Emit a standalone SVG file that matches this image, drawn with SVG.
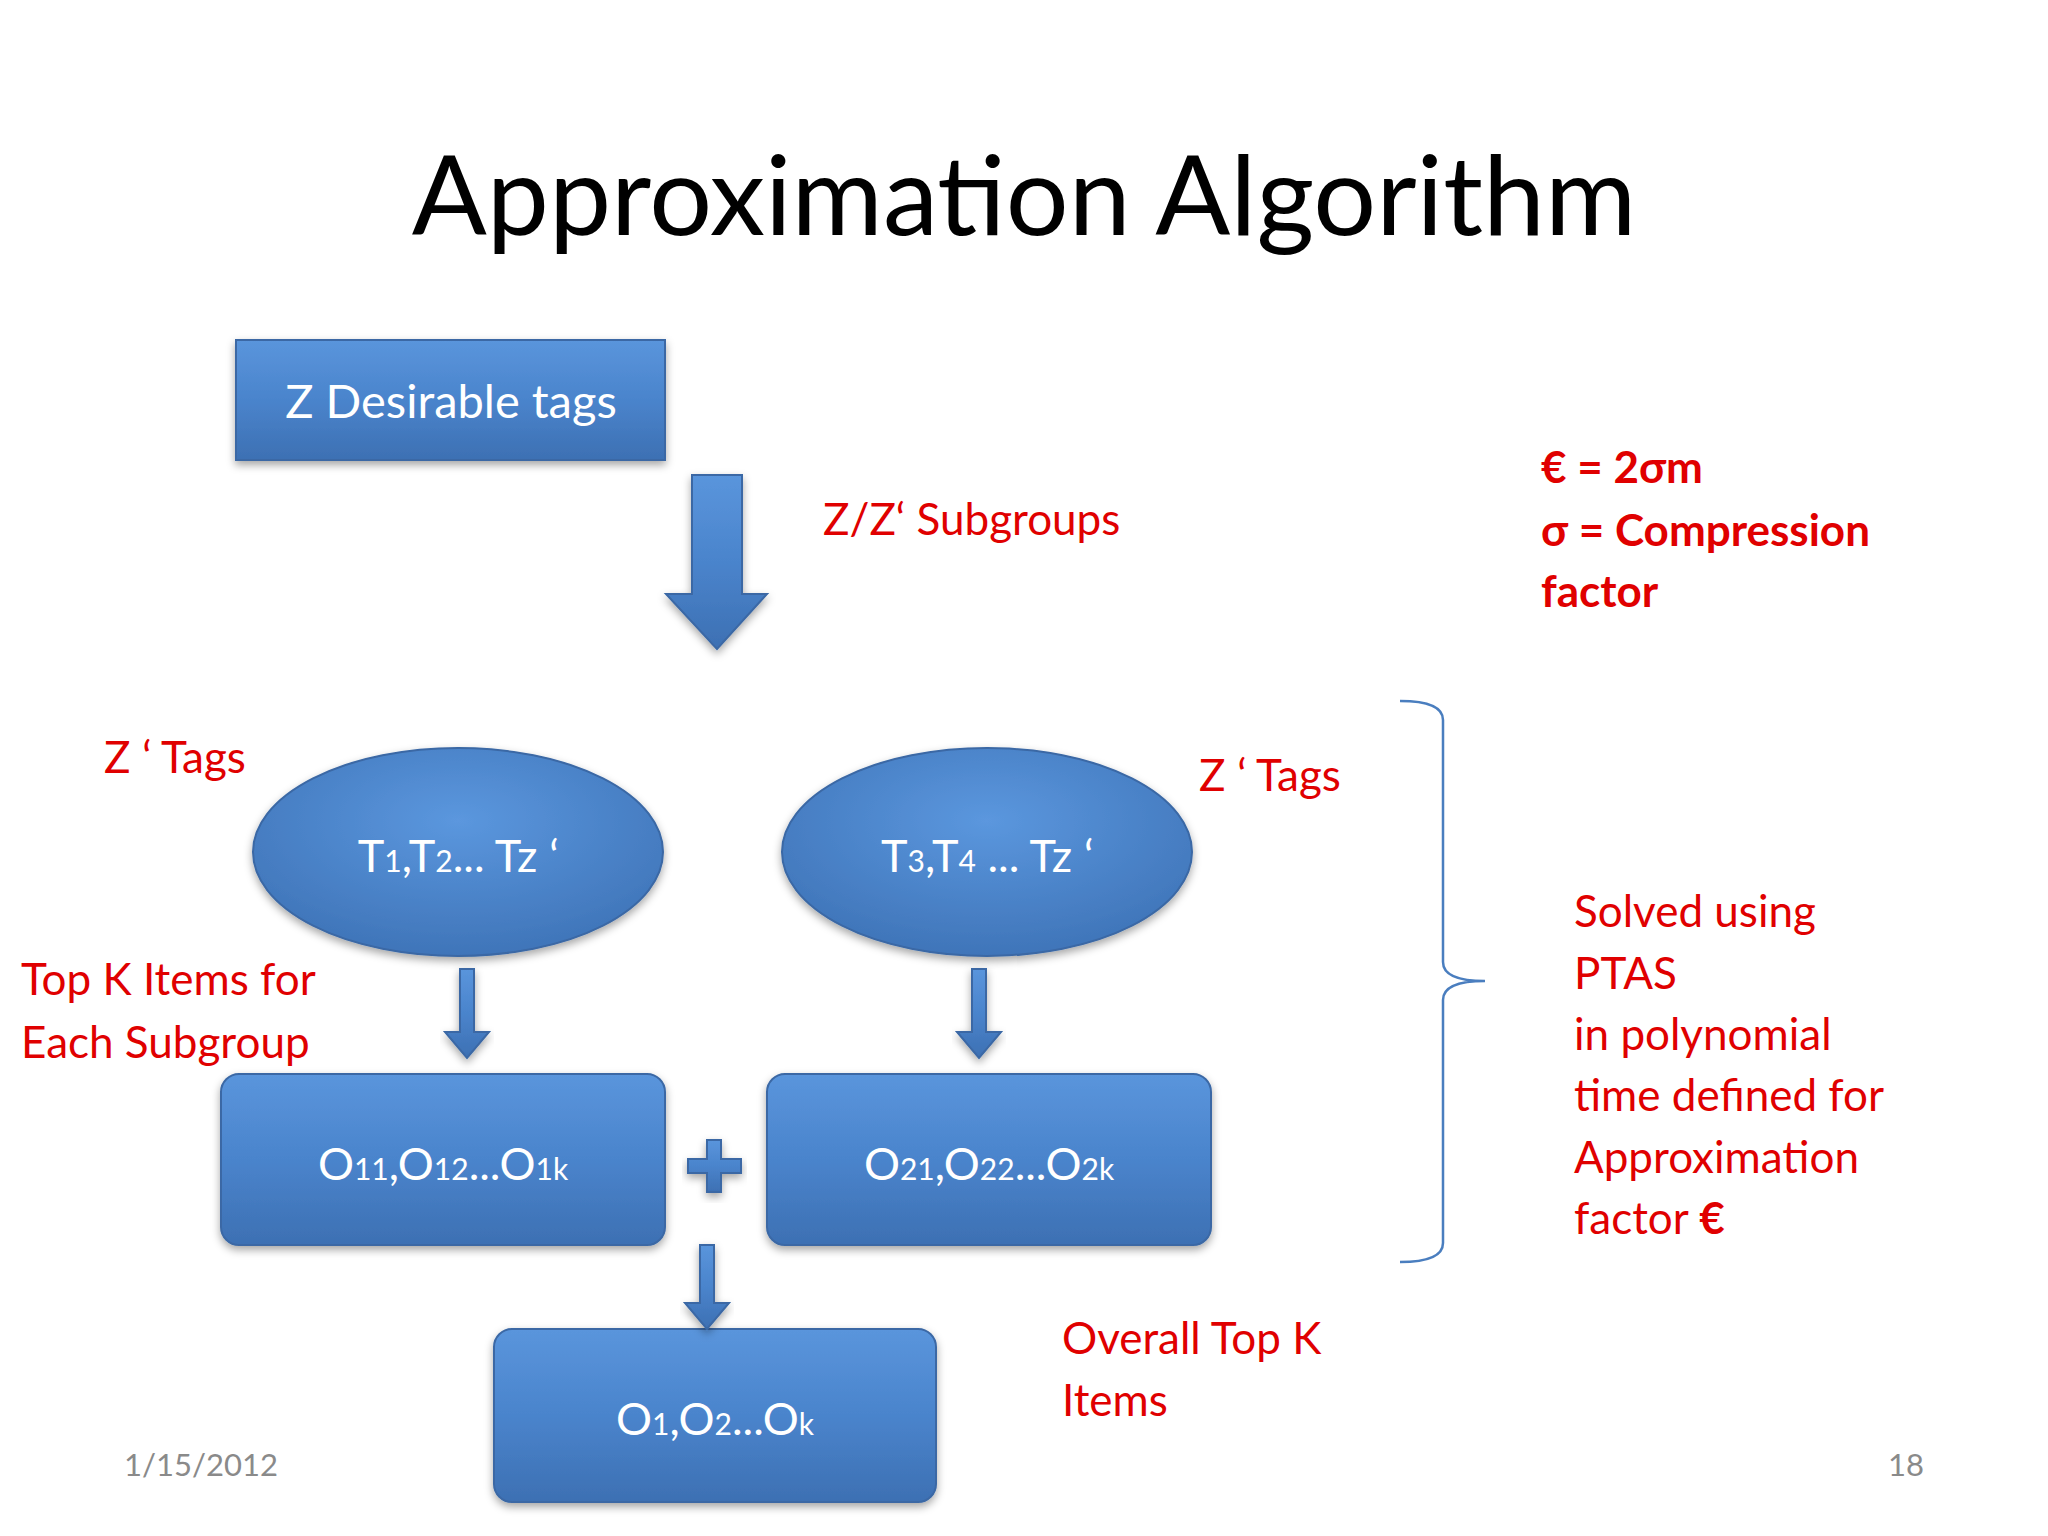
<svg xmlns="http://www.w3.org/2000/svg" width="2048" height="1536" viewBox="0 0 2048 1536">
<defs>
<linearGradient id="g" x1="0" y1="0" x2="0" y2="1"><stop offset="0" stop-color="#5a95dc"/><stop offset="0.5" stop-color="#4a84cc"/><stop offset="1" stop-color="#3d70b3"/></linearGradient>
<radialGradient id="eg" cx="0.5" cy="0.35" r="0.7"><stop offset="0" stop-color="#5b97de"/><stop offset="1" stop-color="#3d72b6"/></radialGradient>
<filter id="sh" x="-10%" y="-10%" width="120%" height="130%"><feDropShadow dx="0" dy="4" stdDeviation="4" flood-color="#000" flood-opacity="0.35"/></filter>
</defs>
<style>
.n{fill:url(#g);stroke:#3a68a5;stroke-width:2;filter:url(#sh)}
.e{fill:url(#eg);stroke:#3a68a5;stroke-width:2;filter:url(#sh)}
.w{font-family:Lato,"Open Sans",sans-serif;fill:#fff;text-anchor:middle}
.r{font-family:Lato,"Open Sans",sans-serif;fill:#e00000;font-size:44px}
.a{fill:url(#g);stroke:#3a68a5;stroke-width:2;filter:url(#sh)}
</style>
<rect width="2048" height="1536" fill="#fff"/>
<text x="1024" y="235" font-family="Lato,'Open Sans',sans-serif" font-size="111" text-anchor="middle" fill="#000">Approximation Algorithm</text>
<g id="n1"><rect class="n" x="236" y="340" width="429" height="120"/><text class="w" x="451" y="418" font-size="47">Z Desirable tags</text></g>
<g id="e1"><ellipse class="e" cx="458" cy="852" rx="205" ry="104"/><text class="w" x="458" y="872" font-size="45">T<tspan font-size="30">1</tspan>,T<tspan font-size="30">2</tspan>... Tz ʻ</text></g>
<g id="e2"><ellipse class="e" cx="987" cy="852" rx="205" ry="104"/><text class="w" x="987" y="872" font-size="45">T<tspan font-size="30">3</tspan>,T<tspan font-size="30">4</tspan> ... Tz ʻ</text></g>
<g id="b1"><rect class="n" x="221" y="1074" width="444" height="171" rx="18"/><text class="w" x="443" y="1180" font-size="45">O<tspan font-size="30">11</tspan>,O<tspan font-size="30">12</tspan>...O<tspan font-size="30">1k</tspan></text></g>
<g id="b2"><rect class="n" x="767" y="1074" width="444" height="171" rx="18"/><text class="w" x="989" y="1180" font-size="45">O<tspan font-size="30">21</tspan>,O<tspan font-size="30">22</tspan>...O<tspan font-size="30">2k</tspan></text></g>
<g id="b3"><rect class="n" x="494" y="1329" width="442" height="173" rx="18"/><text class="w" x="715" y="1435" font-size="45">O<tspan font-size="30">1</tspan>,O<tspan font-size="30">2</tspan>...O<tspan font-size="30">k</tspan></text></g>
<g id="connectors">
<polygon class="a" points="692,475 742,475 742,594 767,594 717,649 666,594 692,594"/>
<polygon class="a" points="460,969 474,969 474,1032 489,1032 467,1058 445,1032 460,1032"/>
<polygon class="a" points="972,969 986,969 986,1032 1001,1032 979,1058 957,1032 972,1032"/>
<polygon class="a" points="700,1245 714,1245 714,1303 729,1303 707,1329 685,1303 700,1303"/>
<polygon class="a" points="707,1140 721,1140 721,1159 741,1159 741,1173 721,1173 721,1192 707,1192 707,1173 688,1173 688,1159 707,1159"/>
<path d="M1400,701 Q1443,701 1443,720 L1443,962 Q1443,981 1485,981 Q1443,981 1443,1000 L1443,1243 Q1443,1262 1400,1262" fill="none" stroke="#4a7ebf" stroke-width="2.5"/>
</g>
<text class="r" x="823" y="535">Z/Z‘ Subgroups</text>
<g class="r" font-weight="bold"><text x="1541" y="483">€ = 2σm</text><text x="1541" y="546"> σ = Compression</text><text x="1541" y="607">factor</text></g>
<text class="r" x="104" y="773">Z ʻ Tags</text>
<text class="r" x="1199" y="791">Z ʻ Tags</text>
<text class="r" x="21" y="995">Top K Items for</text>
<text class="r" x="21" y="1058">Each Subgroup</text>
<text class="r" x="1062" y="1354">Overall Top K</text>
<text class="r" x="1062" y="1416">Items</text>
<g class="r"><text x="1574" y="927">Solved using</text><text x="1574" y="989">PTAS</text><text x="1574" y="1050">in polynomial</text><text x="1574" y="1111">time defined for</text><text x="1574" y="1173">Approximation</text><text x="1574" y="1234">factor <tspan font-weight="bold">€</tspan></text></g>
<text x="124" y="1476" font-family="Lato,sans-serif" font-size="31" fill="#8a8a8a">1/15/2012</text>
<text x="1924" y="1476" font-family="Lato,sans-serif" font-size="31" fill="#8a8a8a" text-anchor="end">18</text>
</svg>
